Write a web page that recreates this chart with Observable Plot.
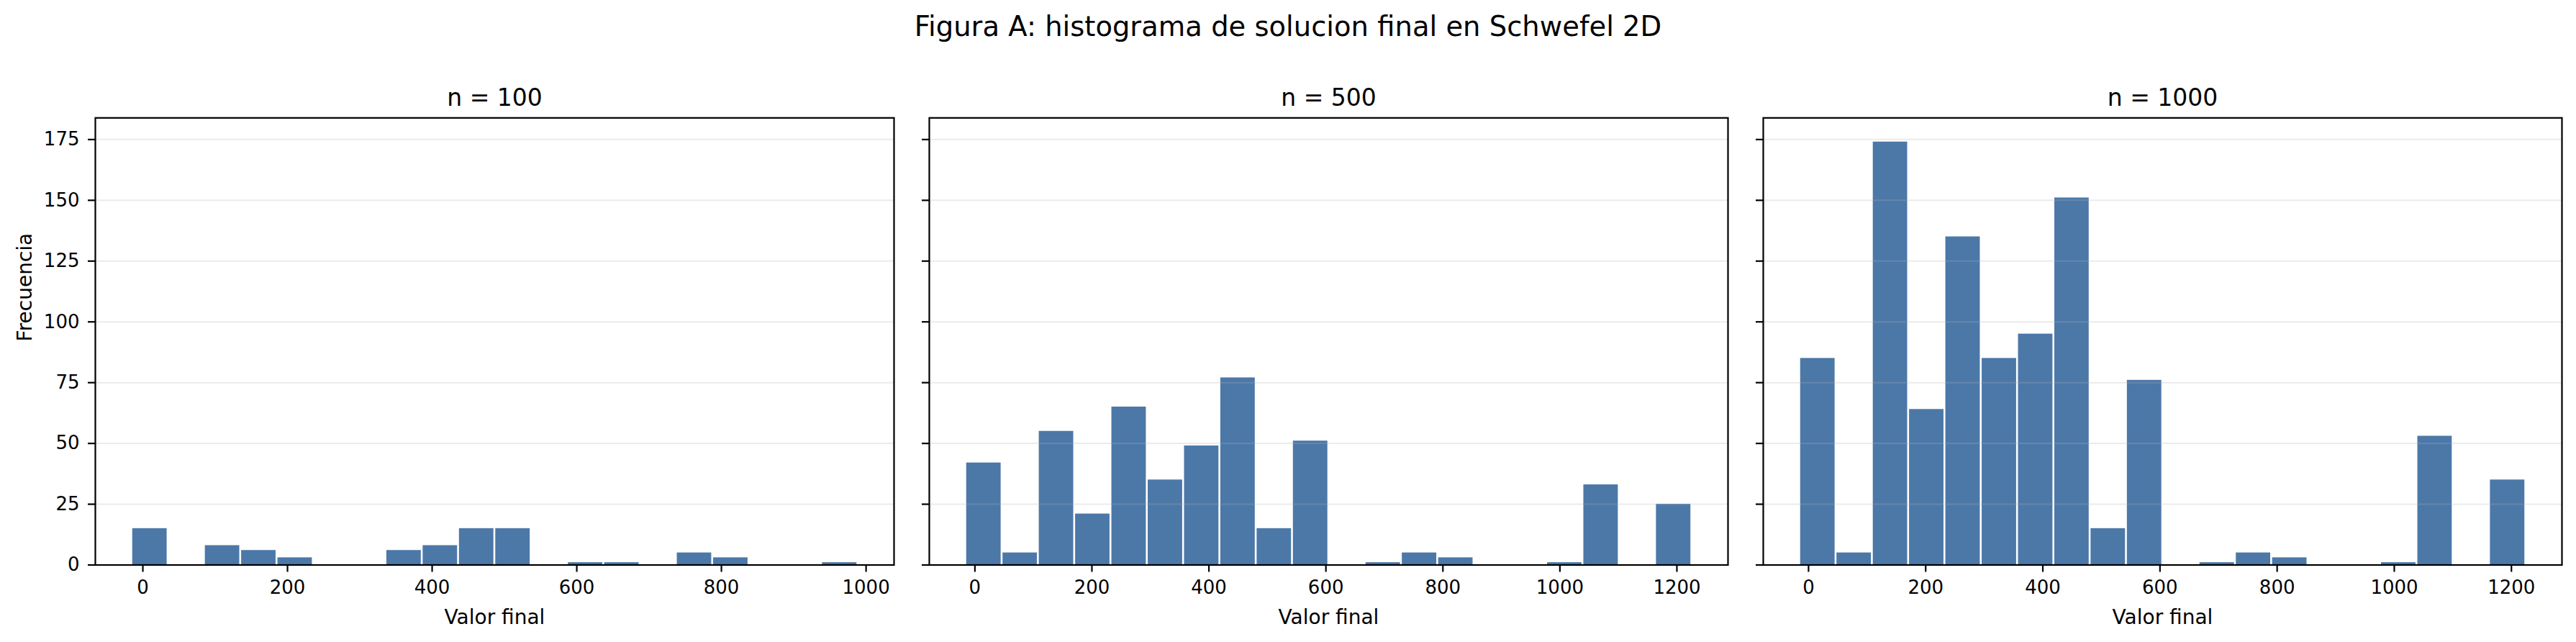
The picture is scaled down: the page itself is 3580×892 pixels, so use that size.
<!DOCTYPE html>
<html>
<head>
<meta charset="utf-8">
<script src="https://cdn.jsdelivr.net/npm/d3@7"></script>
<script src="https://cdn.jsdelivr.net/npm/@observablehq/plot@0.6"></script>
<style>
  html, body { margin: 0; padding: 0; background: white; overflow: hidden; }
  #fig { position: relative; width: 3580px; height: 892px; background: white; font-family: "DejaVu Sans", sans-serif; }
  #suptitle { position: absolute; left: 0; top: 18px; width: 3580px; text-align: center; font-size: 38.5px; line-height: 38.5px; color: black; }
  .panel { position: absolute; top: 100px; }
</style>
</head>
<body>
<div id="fig">
  <div id="suptitle">Figura A: histograma de solucion final en Schwefel 2D</div>
</div>
<script>
// ---- Data ----
const panelTitles = ["n = 100", "n = 500", "n = 1000"];

const edges100 = [-15.5, 34.7, 84.9, 135.1, 185.3, 235.5, 285.7, 335.9, 386.1, 436.3, 486.5, 536.7, 586.9, 637.1, 687.3, 737.5, 787.7, 837.9, 888.1, 938.3, 988.5];
const counts100 = [15, 0, 8, 6, 3, 0, 0, 6, 8, 15, 15, 0, 1, 1, 0, 5, 3, 0, 0, 1];

const edges500 = [-15.9, 46.2, 108.2, 170.3, 232.3, 294.4, 356.5, 418.5, 480.6, 542.6, 604.7, 666.8, 728.8, 790.9, 852.9, 915.0, 977.1, 1039.1, 1101.2, 1163.2, 1225.3];
const counts500 = [42, 5, 55, 21, 65, 35, 49, 77, 15, 51, 0, 1, 5, 3, 0, 0, 1, 33, 0, 25];

const edges1000 = [-15.3, 46.7, 108.7, 170.6, 232.6, 294.6, 356.6, 418.6, 480.5, 542.5, 604.5, 666.5, 728.5, 790.4, 852.4, 914.4, 976.4, 1038.4, 1100.3, 1162.3, 1224.3];
const counts1000 = [85, 5, 174, 64, 135, 85, 95, 151, 15, 76, 0, 1, 5, 3, 0, 0, 1, 53, 0, 35];

const xTicks100 = [0, 200, 400, 600, 800, 1000];
const xTicks500 = [0, 200, 400, 600, 800, 1000, 1200];
const xTicks1000 = [0, 200, 400, 600, 800, 1000, 1200];
const yTicks = [0, 25, 50, 75, 100, 125, 150, 175];

const xLabel = "Valor final";
const yLabel = "Frecuencia";

// ---- Layout ----
const FONT = "DejaVu Sans";
const BAR = "#4c78a8";
const frameW = 1110;
const svgH = 792;
const mTop = 63.3;
const mBottom = 107.5;
const yMax = 183.9;

const panels = [
  {title: panelTitles[0], edges: edges100, counts: counts100, xticks: xTicks100, left: 0, mLeft: 132, first: true},
  {title: panelTitles[1], edges: edges500, counts: counts500, xticks: xTicks500, left: 1266.6, mLeft: 24, first: false},
  {title: panelTitles[2], edges: edges1000, counts: counts1000, xticks: xTicks1000, left: 2425.6, mLeft: 24, first: false}
];

const fig = document.getElementById("fig");

for (const p of panels) {
  const bins = p.counts.map((c, i) => ({x1: p.edges[i], x2: p.edges[i + 1], count: c}));
  const lo = p.edges[0], hi = p.edges[p.edges.length - 1];
  const pad = 0.05 * (hi - lo);
  const mRight = 20;
  const width = p.mLeft + frameW + mRight;

  const marks = [
    Plot.rectY(bins, {x1: "x1", x2: "x2", y1: 0, y2: "count", fill: BAR, insetLeft: 1.3, insetRight: 1.3}),
    Plot.gridY(yTicks, {stroke: "#b0b0b0", strokeOpacity: 0.25, strokeWidth: 2}),
    Plot.axisX(p.xticks, {tickSize: 10, tickPadding: 12, fontSize: 26, strokeWidth: 2.2, label: null, tickFormat: d => String(d)}),
    Plot.axisY(yTicks, {tickSize: 10, tickPadding: 12, fontSize: 26, strokeWidth: 2.2, label: null,
      tickFormat: p.first ? (d => String(d)) : (() => "")}),
    Plot.frame({stroke: "black", strokeWidth: 2.2}),
    Plot.text([p.title], {frameAnchor: "top", lineAnchor: "bottom", dy: -16.6, fontSize: 33, fill: "black"}),
    Plot.text([xLabel], {frameAnchor: "bottom", lineAnchor: "bottom", dy: 81.5, fontSize: 28, fill: "black"})
  ];
  if (p.first) {
    marks.push(Plot.text([yLabel], {frameAnchor: "left", rotate: -90, lineAnchor: "bottom", dx: -89, fontSize: 28, fill: "black"}));
  }

  const chart = Plot.plot({
    width: width,
    height: svgH,
    marginTop: mTop,
    marginBottom: mBottom,
    marginLeft: p.mLeft,
    marginRight: mRight,
    x: {domain: [lo - pad, hi + pad]},
    y: {domain: [0, yMax]},
    style: {fontFamily: FONT, fontSize: "26px", color: "black", background: "white", overflow: "visible"},
    marks: marks
  });
  chart.classList.add("panel");
  chart.style.left = p.left + "px";
  chart.style.position = "absolute";
  chart.style.top = "100px";
  fig.appendChild(chart);
}
</script>
</body>
</html>
